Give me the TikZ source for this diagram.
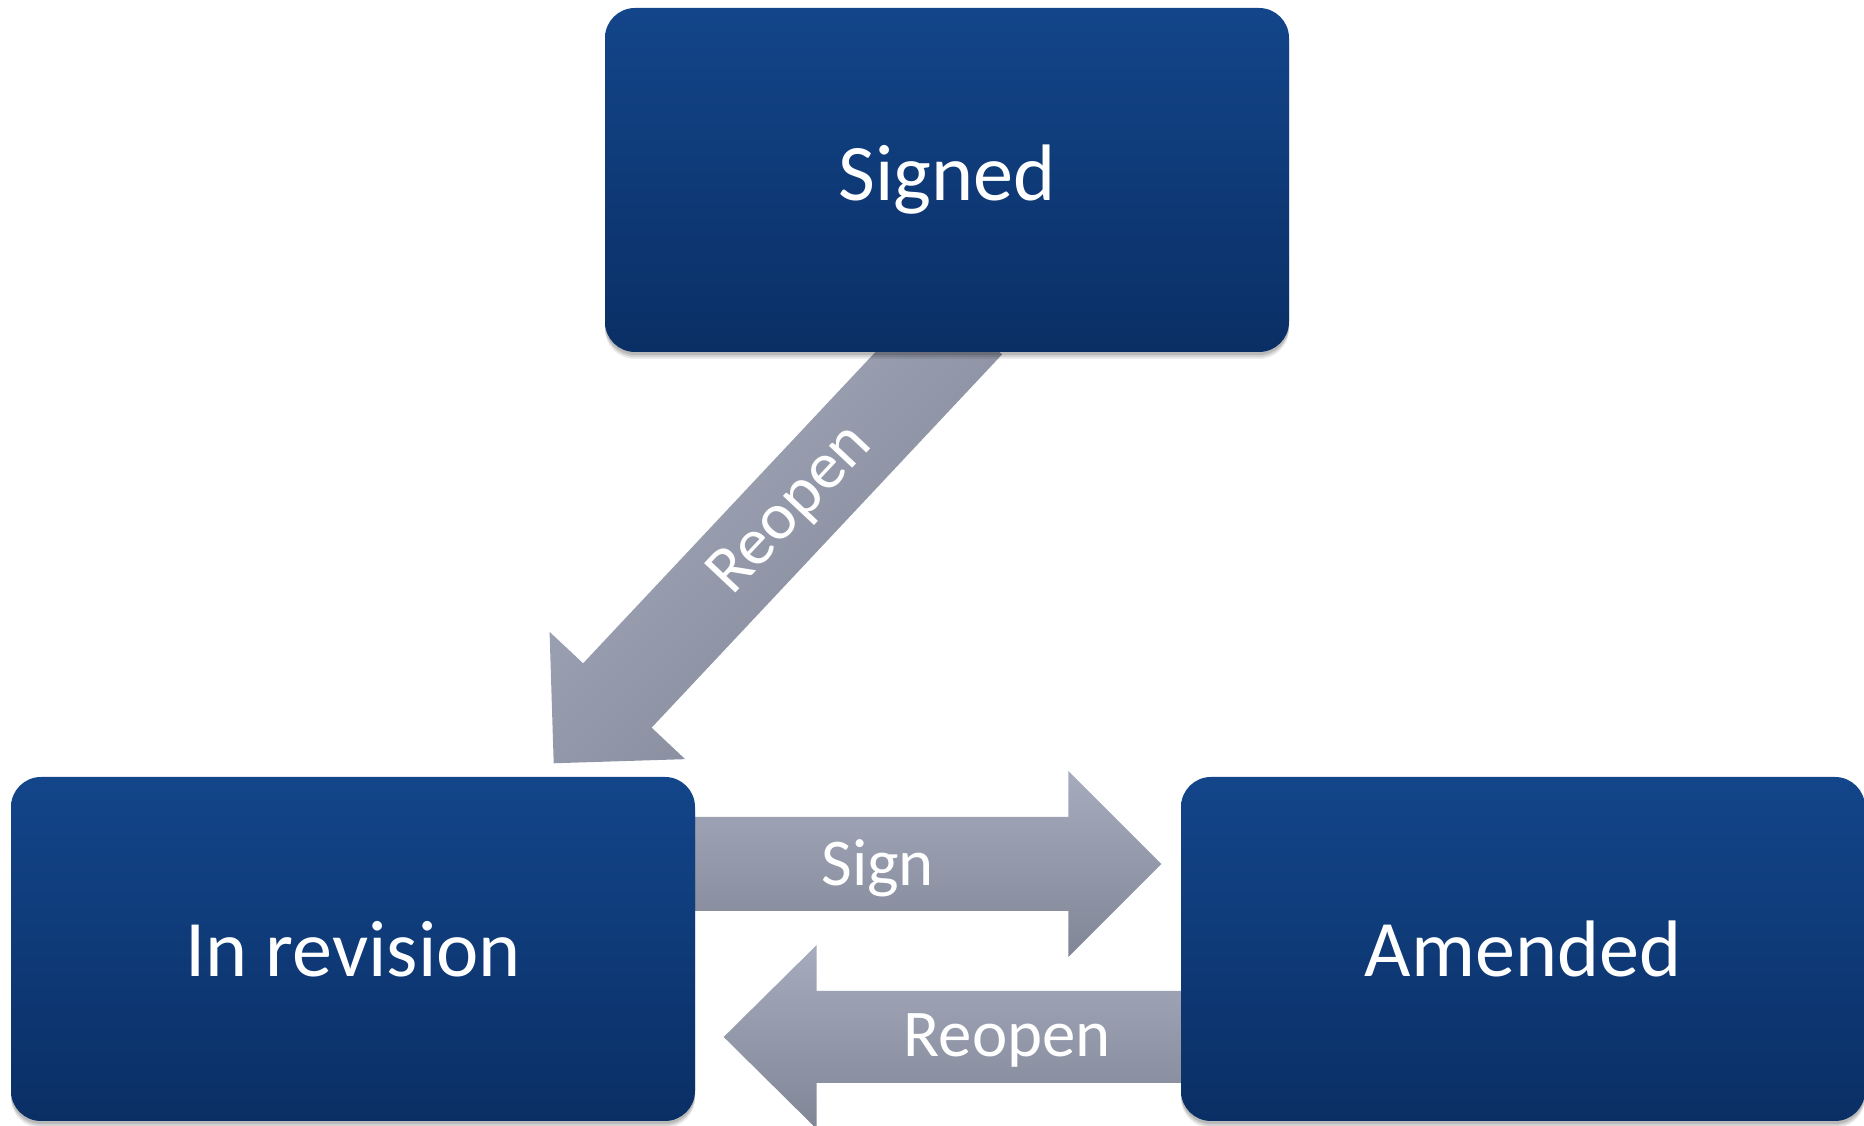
\documentclass[tikz,border=0pt]{standalone}
\usepackage{fontspec}
\setmainfont{Carlito}
\usetikzlibrary{calc,shadows,backgrounds}

\definecolor{boxtop}{RGB}{19,69,138}
\definecolor{boxbot}{RGB}{10,47,101}
\definecolor{arrtop}{RGB}{166,172,189}
\definecolor{arrbot}{RGB}{128,134,150}

\tikzset{
  state/.style={rectangle, rounded corners=0.3cm, minimum width=6.84cm,
    minimum height=3.44cm, inner sep=0pt, top color=boxtop, bottom color=boxbot,
    text=white, font=\fontsize{22.8}{27}\selectfont,
    drop shadow={shadow xshift=0pt, shadow yshift=-0.07cm, opacity=0.08, fill=black},
    drop shadow={shadow xshift=0pt, shadow yshift=-0.05cm, opacity=0.1, fill=black},
    drop shadow={shadow xshift=0pt, shadow yshift=-0.03cm, opacity=0.12, fill=black}},
  flow/.style={top color=arrtop, bottom color=arrbot},
  flowlabel/.style={text=white, font=\fontsize{19}{23}\selectfont}
}

\begin{document}
\begin{tikzpicture}
\useasboundingbox (0cm,0cm) rectangle (18.64cm,11.26cm);

\draw (9.47cm,9.46cm)  node (11) [state] {Signed};
\draw (3.53cm,1.77cm)  node (21) [state] {In revision};
\draw (15.23cm,1.77cm) node (23) [state] {Amended};

\begin{scope}[on background layer]
% Signed -> In revision
\coordinate (t1) at ($(21.north east)+(-1.42,0.13)$);
\begin{scope}[shift={(t1)}, rotate=46.8]
\shade[flow, shading angle=45] (0,0) -- (0.93,0.93) -- (0.93,0.47) -- (6.05,0.47)
  -- (6.05,-0.47) -- (0.93,-0.47) -- (0.93,-0.93) -- cycle;
\end{scope}
\draw ($(t1)+(46.8:3.47)$) node (31) [flowlabel, rotate=46.8] {Reopen};

% In revision -> Amended
\coordinate (a2) at ($(21.east)+(-0.2,0.85)$);
\coordinate (t2) at ($(23.west)+(-0.19,0.85)$);
\shade[flow] ($(a2)+(0,0.47)$) -- ($(t2)+(-0.93,0.47)$) -- ($(t2)+(-0.93,0.93)$)
  -- (t2) -- ($(t2)+(-0.93,-0.93)$) -- ($(t2)+(-0.93,-0.47)$)
  -- ($(a2)+(0,-0.47)$) -- cycle;
\draw ($(21.east)+(1.82,0.81)$) node (32) [flowlabel] {Sign};

% Amended -> In revision
\coordinate (a3) at ($(23.west)+(0.2,-0.88)$);
\coordinate (t3) at ($(21.east)+(0.28,-0.88)$);
\shade[flow] ($(a3)+(0,0.46)$) -- ($(t3)+(0.93,0.46)$) -- ($(t3)+(0.93,0.92)$)
  -- (t3) -- ($(t3)+(0.93,-0.92)$) -- ($(t3)+(0.93,-0.46)$)
  -- ($(a3)+(0,-0.46)$) -- cycle;
\draw ($(23.west)+(-1.73,-0.91)$) node (33) [flowlabel] {Reopen};
\end{scope}
\end{tikzpicture}
\end{document}
